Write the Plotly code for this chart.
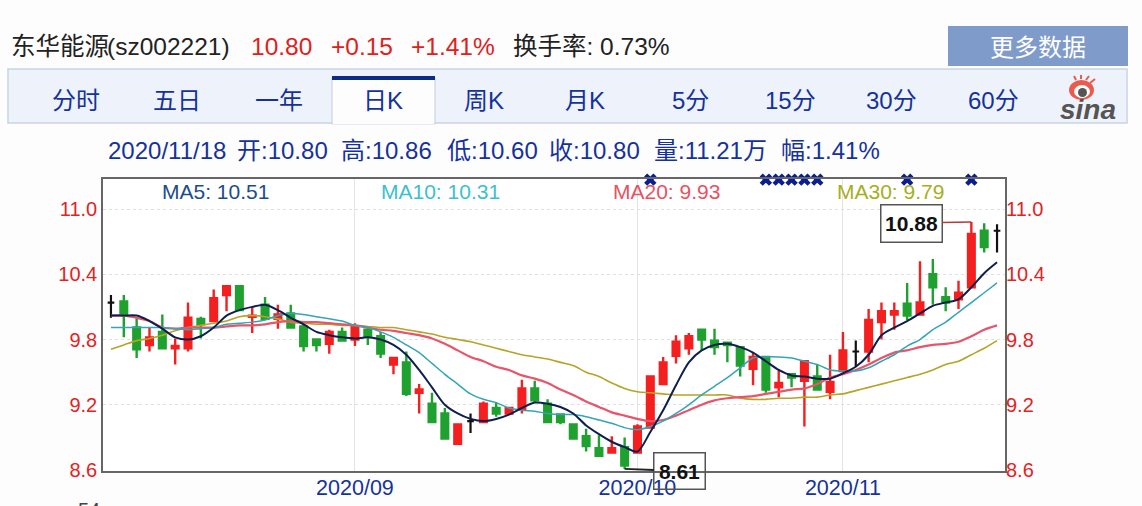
import pandas as pd
import plotly.graph_objects as go

W, H = 1142, 506
FONT = "Liberation Sans, Noto Sans CJK SC, sans-serif"

# ---- data ----
all_days = pd.bdate_range("2020-08-05", "2020-11-18")
dates = [d.strftime("%Y/%m/%d") for d in all_days
         if not (pd.Timestamp("2020-10-01") <= d <= pd.Timestamp("2020-10-08"))]

opens = [10.14,10.15,9.91,9.75,9.87,9.72,9.72,9.99,9.97,10.21,
         10.29,10.01,10.12,9.99,10.04,9.92,9.80,9.76,9.87,9.80,
         9.89,9.83,9.57,9.59,9.31,9.21,9.12,8.84,9.05,9.04,
         9.17,9.12,9.16,9.35,9.21,9.11,9.02,8.91,8.80,8.76,
         8.81,8.76,8.99,9.39,9.65,9.72,9.89,9.79,9.77,9.73,
         9.53,9.64,9.36,9.48,9.42,9.46,9.32,9.51,9.69,9.69,
         9.96,10.03,10.13,10.03,10.40,10.19,10.17,10.28,10.80,10.80]
highs = [10.21,10.21,10.00,9.91,10.03,9.81,10.14,10.01,10.26,10.29,
         10.29,10.10,10.19,10.12,10.12,9.95,9.80,9.89,9.91,9.95,
         9.91,9.87,9.64,9.69,9.39,9.31,9.17,9.03,9.12,9.23,
         9.22,9.18,9.43,9.42,9.25,9.11,9.02,8.98,8.92,8.91,
         8.90,9.02,9.46,9.64,9.84,9.86,9.89,9.90,9.77,9.73,
         9.68,9.64,9.52,9.49,9.60,9.57,9.66,9.87,9.79,10.08,
         10.14,10.14,10.32,10.52,10.54,10.28,10.34,10.88,10.87,10.86]
lows = [10.00,9.82,9.63,9.69,9.71,9.57,9.69,9.81,9.96,10.06,
        10.06,9.86,9.98,9.90,9.91,9.69,9.69,9.67,9.78,9.74,
        9.75,9.63,9.48,9.28,9.12,9.03,8.89,8.84,8.94,9.03,
        9.09,9.12,9.12,9.22,9.04,9.02,8.89,8.77,8.72,8.76,
        8.61,8.76,8.98,9.39,9.58,9.66,9.70,9.66,9.59,9.46,
        9.38,9.31,9.27,9.36,9.00,9.34,9.25,9.51,9.55,9.59,
        9.80,9.89,9.98,10.03,10.12,10.06,10.08,10.28,10.60,10.60]
closes = [10.14,10.03,9.71,9.82,9.72,9.74,10.00,9.94,10.18,10.29,
          10.07,10.02,9.99,10.03,9.91,9.74,9.75,9.87,9.79,9.92,
          9.83,9.67,9.63,9.30,9.34,9.04,8.89,9.02,9.05,9.21,
          9.12,9.17,9.35,9.24,9.04,9.04,8.89,8.82,8.73,8.80,
          8.64,9.00,9.46,9.59,9.78,9.83,9.80,9.73,9.75,9.56,
          9.64,9.34,9.40,9.45,9.60,9.34,9.41,9.70,9.69,9.98,
          10.06,10.06,10.02,10.14,10.28,10.14,10.23,10.77,10.65,10.80]
doji_days = [0, 28, 58, 69]

ma5 = [10.02,10.02,10.02,9.97,9.90,9.82,9.80,9.83,9.91,10.02,
       10.07,10.10,10.12,10.07,10.00,9.94,9.87,9.84,9.82,9.81,
       9.82,9.80,9.75,9.66,9.52,9.36,9.20,9.12,9.07,9.05,
       9.07,9.11,9.17,9.22,9.21,9.18,9.12,9.01,8.93,8.86,
       8.81,8.77,8.95,9.15,9.38,9.59,9.70,9.75,9.76,9.73,
       9.68,9.60,9.52,9.47,9.46,9.44,9.44,9.49,9.55,9.66,
       9.84,9.91,9.97,10.04,10.11,10.14,10.17,10.28,10.41,10.51]
ma10 = [9.91,9.91,9.91,9.91,9.91,9.90,9.89,9.90,9.91,9.94,
        9.95,9.96,9.98,10.02,10.04,10.03,10.01,9.99,9.97,9.93,
        9.91,9.87,9.82,9.75,9.68,9.58,9.48,9.39,9.30,9.25,
        9.22,9.17,9.15,9.14,9.12,9.11,9.11,9.09,9.06,9.03,
        8.99,8.97,9.00,9.05,9.12,9.20,9.29,9.37,9.45,9.54,
        9.63,9.64,9.64,9.63,9.60,9.57,9.52,9.51,9.51,9.54,
        9.60,9.66,9.74,9.80,9.89,9.96,10.05,10.14,10.23,10.32]
ma20 = [10.02,10.02,10.00,9.97,9.91,9.90,9.91,9.91,9.91,9.92,
        9.93,9.93,9.94,9.96,9.97,9.96,9.96,9.95,9.94,9.93,
        9.91,9.89,9.88,9.86,9.84,9.81,9.76,9.70,9.64,9.60,
        9.55,9.52,9.47,9.44,9.40,9.34,9.29,9.23,9.18,9.13,
        9.10,9.07,9.05,9.06,9.10,9.15,9.20,9.24,9.26,9.27,
        9.28,9.30,9.32,9.34,9.35,9.39,9.45,9.48,9.52,9.57,
        9.63,9.68,9.70,9.73,9.75,9.76,9.78,9.83,9.89,9.93]
ma30 = [9.71,9.75,9.79,9.81,9.84,9.88,9.91,9.93,9.95,9.97,
        10.01,10.02,10.01,9.99,9.96,9.95,9.94,9.94,9.93,9.93,
        9.92,9.91,9.91,9.89,9.87,9.85,9.82,9.80,9.78,9.75,
        9.72,9.69,9.66,9.64,9.62,9.59,9.56,9.50,9.46,9.40,
        9.35,9.32,9.31,9.30,9.29,9.29,9.29,9.29,9.29,9.26,
        9.25,9.25,9.26,9.26,9.27,9.27,9.29,9.30,9.33,9.36,
        9.39,9.42,9.45,9.48,9.52,9.57,9.60,9.66,9.72,9.79]
ma_names = ["MA5: 10.51", "MA10: 10.31", "MA20: 9.93", "MA30: 9.79"]
ma_label_x = [160, 379, 611, 835]
ma_label_colors = ["#1c4c8c", "#3cc0d0", "#e85262", "#a6ae22"]
ma_line_colors = ["#0d1f4f", "#35a5b5", "#e8546a", "#b8a326"]
ma_widths = [2, 1.5, 2.2, 1.6]

signal_days = [42, 51, 52, 53, 54, 55, 62, 67]
signal_level = [11.27] * len(signal_days)

y_ticks = [8.6, 9.2, 9.8, 10.4, 11.0]
y_tick_text = ["8.6", "9.2", "9.8", "10.4", "11.0"]
x_tick_days = ["2020/09/01", "2020/10/09", "2020/11/02"]
x_tick_text = ["2020/09", "2020/10", "2020/11"]

tab_labels = ["分时", "五日", "一年", "日K", "周K", "月K", "5分", "15分", "30分", "60分"]
tab_x = [76, 177, 279, 383, 484, 585, 690, 790, 891, 993]
title_parts = ["东华能源", "(sz002221)", "10.80", "+0.15", "+1.41%", "换手率: 0.73%"]
title_x = [9, 105, 249, 329, 409, 511]
title_colors = ["#222222", "#222222", "#e0201c", "#e0201c", "#e0201c", "#222222"]
quote_parts = ["2020/11/18", "开:10.80", "高:10.86", "低:10.60", "收:10.80", "量:11.21万", "幅:1.41%"]
quote_x = [106, 235, 339, 445, 547, 652, 779]

NAVY = "#15329a"
BG = "#fdfdfe"
RED = "#f50f0f"
GREEN = "#0f9a20"


def px(x):
    return x / W


def py(y):
    return 1 - y / H


fig = go.Figure()

for vals, name, col, wd in zip([ma30, ma20, ma10, ma5], ["MA30", "MA20", "MA10", "MA5"],
                               ma_line_colors[::-1], ma_widths[::-1]):
    fig.add_trace(go.Scatter(x=dates, y=vals, mode="lines", name=name,
                             line=dict(color=col, width=wd, shape="spline", smoothing=0.8),
                             hoverinfo="skip"))

plain = [i for i in range(len(dates)) if i not in doji_days]
pick = lambda seq, idx: [seq[i] for i in idx]
fig.add_trace(go.Candlestick(
    x=pick(dates, plain), open=pick(opens, plain), high=pick(highs, plain),
    low=pick(lows, plain), close=pick(closes, plain), name="K",
    opacity=0.93, whiskerwidth=0,
    increasing=dict(line=dict(color=RED, width=2.4), fillcolor=RED),
    decreasing=dict(line=dict(color=GREEN, width=2.4), fillcolor=GREEN)))
fig.add_trace(go.Candlestick(
    x=pick(dates, doji_days), open=pick(opens, doji_days), high=pick(highs, doji_days),
    low=pick(lows, doji_days), close=pick(closes, doji_days), name="doji",
    whiskerwidth=0,
    increasing=dict(line=dict(color="#111111", width=2.2), fillcolor="#111111"),
    decreasing=dict(line=dict(color="#111111", width=2.2), fillcolor="#111111")))

fig.add_trace(go.Scatter(x=pick(dates, signal_days), y=signal_level, yaxis="y2", mode="markers",
                         cliponaxis=False, hoverinfo="skip",
                         marker=dict(symbol="x", size=11, color="#0a1f8f",
                                     line=dict(width=0))))

ann = []
for t, x, c in zip(title_parts, title_x, title_colors):
    ann.append(dict(text=t, x=px(x), y=py(46), xanchor="left", font=dict(size=24.5, color=c)))
for t, x in zip(tab_labels, tab_x):
    ann.append(dict(text=t, x=px(x), y=py(101), xanchor="center", font=dict(size=24, color=NAVY)))
for t, x in zip(quote_parts, quote_x):
    ann.append(dict(text=t, x=px(x), y=py(150), xanchor="left", font=dict(size=24, color=NAVY)))
for t, x, c in zip(ma_names, ma_label_x, ma_label_colors):
    ann.append(dict(text=t, x=px(x), y=py(191), xanchor="left", font=dict(size=21, color=c)))
ann.append(dict(text="更多数据", x=px(1038), y=py(47), xanchor="center", font=dict(size=24, color="#ffffff")))
ann.append(dict(text="<b><i>sina</i></b>", x=px(1088), y=py(110), xanchor="center",
                font=dict(size=28, color="#555555")))
ann.append(dict(text="54", x=px(76), y=py(497), xanchor="left", yanchor="top",
                font=dict(size=20, color="#444444")))
for a in ann:
    a.update(xref="paper", yref="paper", showarrow=False)
    if "yanchor" not in a:
        a["yanchor"] = "middle"

ann.append(dict(text="<b>10.88</b>", x=dates[67], y=10.88, xref="x", yref="y", ax=-60, ay=1,
                width=58, height=34, bgcolor="#ffffff", bordercolor="#555555", borderwidth=1.5,
                font=dict(size=21, color="#111111"), showarrow=True, arrowhead=0,
                arrowcolor="#b23a3a", arrowwidth=1.6))
ann.append(dict(text="<b>8.61</b>", x=dates[40], y=8.61, xref="x", yref="y", ax=55, ay=2,
                width=48, height=33, bgcolor="rgba(255,255,255,0)", bordercolor="#555555", borderwidth=1.5,
                font=dict(size=21, color="#111111"), showarrow=True, arrowhead=0,
                arrowcolor="#222222", arrowwidth=1.8))


def rect(x0, y0, x1, y1, fill, line=None, lw=1, kind="rect"):
    return dict(type=kind, xref="paper", yref="paper", x0=px(x0), x1=px(x1), y0=py(y0), y1=py(y1),
                fillcolor=fill, line=dict(color=line or "rgba(0,0,0,0)", width=lw), layer="below")


def seg(x0, y0, x1, y1, color, lw=2):
    return dict(type="line", xref="paper", yref="paper", x0=px(x0), x1=px(x1), y0=py(y0), y1=py(y1),
                line=dict(color=color, width=lw), layer="below")


shapes = [
    rect(948, 26, 1128, 66, "#7f9bc9"),
    rect(8, 69, 1127, 123, "#eef2fa", "#c9d3e2", 1.5),
    rect(332, 78, 435, 124, BG, "#c2cde0", 1),
    seg(333, 123, 434, 123, BG, 2.5),
    rect(332, 76, 435, 80, "#0c2a8a"),
    # sina eye logo
    rect(1069, 80, 1094, 100, "#ea5a4e", kind="circle"),
    rect(1074, 85, 1090, 98, "#ffffff", kind="circle"),
    rect(1078, 88, 1087, 97, "#555555", kind="circle"),
    seg(1076, 80, 1074, 76, "#ea5a4e"),
    seg(1081, 79, 1081, 75, "#ea5a4e"),
    seg(1086, 80, 1089, 76, "#ea5a4e"),
    seg(1090, 83, 1095, 79, "#ea5a4e"),
]

tick_font = dict(size=20, color="#e2231f", family=FONT)
layout_y = dict(range=[8.591, 11.276], domain=[py(471), py(179)], tickvals=y_ticks, ticktext=y_tick_text,
                tickfont=tick_font, showline=True, linecolor="#666666", linewidth=1.5, mirror=True,
                showgrid=True, gridcolor="#e0e0e0", griddash="dot", gridwidth=1,
                ticks="", zeroline=False)

fig.update_layout(
    width=W, height=H, autosize=False,
    margin=dict(l=0, r=0, t=0, b=0, autoexpand=False),
    paper_bgcolor=BG, plot_bgcolor="#ffffff",
    showlegend=False,
    boxmode="overlay", boxgap=0.26,
    font=dict(family=FONT),
    annotations=ann, shapes=shapes,
    xaxis=dict(type="category", categoryorder="array", categoryarray=dates, range=[-0.62, 69.62],
               domain=[px(103), px(1005)], tickmode="array", tickvals=x_tick_days, ticktext=x_tick_text,
               tickfont=dict(size=21.5, color=NAVY, family=FONT), showgrid=True, gridcolor="#e4e4e4",
               showline=True, mirror=True, linecolor="#666666", linewidth=1.5,
               ticks="", ticklen=0, ticklabelstandoff=-4, zeroline=False,
               rangeslider=dict(visible=False)),
    yaxis=layout_y,
    yaxis2={**{k: v for k, v in layout_y.items() if k not in ("domain", "showgrid", "griddash", "gridcolor", "gridwidth")},
            "overlaying": "y", "side": "right", "showgrid": False, "showline": False, "mirror": False},
)

fig.write_html("out.html", config=dict(displayModeBar=False),
               post_script="document.body.style.margin='0';document.body.style.overflow='hidden';")
